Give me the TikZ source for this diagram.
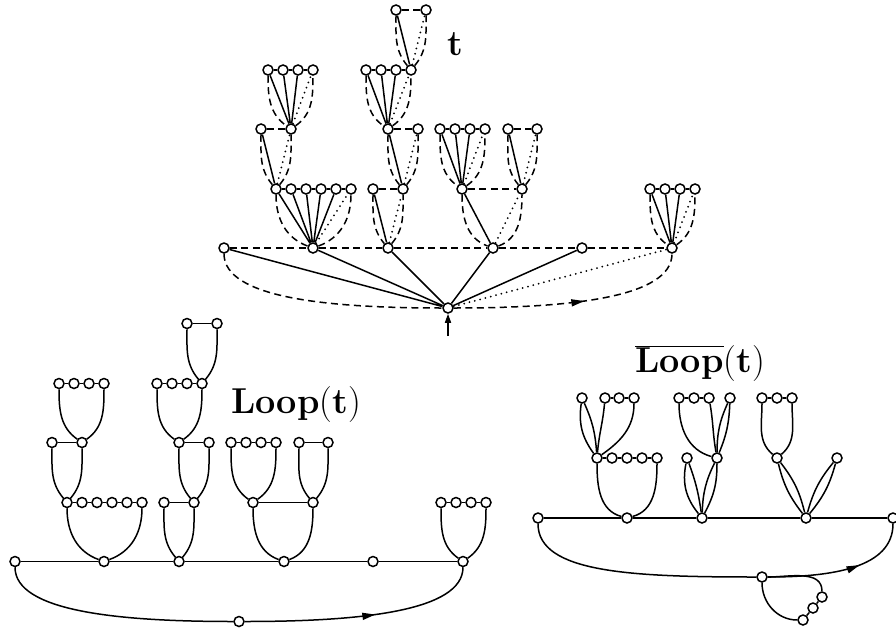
\RequirePackage{fix-cm}
\documentclass[tikz,border=0pt]{standalone}
\usetikzlibrary{arrows.meta,decorations.markings}
\pgfdeclarelayer{back}
\pgfsetlayers{back,main}
\tikzset{
 dot/.style={circle,draw,fill=white,inner sep=0pt,minimum size=10pt,line width=1.5pt},
 se/.style={line width=1.5pt},
 dt/.style={line width=2pt,dash pattern=on 0pt off 5.5pt,line cap=round},
 dsh/.style={line width=1.5pt,dash pattern=on 7pt off 4.5pt},
 arrowmark/.style={postaction={decorate},decoration={markings,mark=at position #1 with {\arrow{Triangle[length=13pt,width=7pt]}}}},
 lbl/.style={font=\fontsize{36}{43}\selectfont,inner sep=0pt},
}
\newcommand\treenodes{%
\node[dot] (r) at (448,308) {};
\node[dot] (a1) at (224,248) {};
\node[dot] (a2) at (313,248) {};
\node[dot] (a3) at (388,248) {};
\node[dot] (a4) at (493,248) {};
\node[dot] (a5) at (582,248) {};
\node[dot] (a6) at (672,248) {};
\node[dot] (b1) at (276,189) {};
\node[dot] (b2) at (291,189) {};
\node[dot] (b3) at (306,189) {};
\node[dot] (b4) at (321,189) {};
\node[dot] (b5) at (336,189) {};
\node[dot] (b6) at (351,189) {};
\node[dot] (c1) at (261,129) {};
\node[dot] (c2) at (291,129) {};
\node[dot] (d1) at (268,70) {};
\node[dot] (d2) at (283,70) {};
\node[dot] (d3) at (298,70) {};
\node[dot] (d4) at (313,70) {};
\node[dot] (e1) at (373,189) {};
\node[dot] (e2) at (403,189) {};
\node[dot] (f1) at (388,129) {};
\node[dot] (f2) at (418,129) {};
\node[dot] (g1) at (366,70) {};
\node[dot] (g2) at (381,70) {};
\node[dot] (g3) at (396,70) {};
\node[dot] (g4) at (411,70) {};
\node[dot] (h1) at (396,10) {};
\node[dot] (h2) at (426,10) {};
\node[dot] (i1) at (462,189) {};
\node[dot] (i2) at (522,189) {};
\node[dot] (j1) at (440,129) {};
\node[dot] (j2) at (455,129) {};
\node[dot] (j3) at (470,129) {};
\node[dot] (j4) at (485,129) {};
\node[dot] (k1) at (508,129) {};
\node[dot] (k2) at (537,129) {};
\node[dot] (l1) at (650,189) {};
\node[dot] (l2) at (665,189) {};
\node[dot] (l3) at (680,189) {};
\node[dot] (l4) at (695,189) {};
}
\newcommand\treechains[1]{%
\draw[#1] (a1)--(a2)--(a3)--(a4)--(a5)--(a6) (b1)--(b2)--(b3)--(b4)--(b5)--(b6)
 (c1)--(c2) (d1)--(d2)--(d3)--(d4) (e1)--(e2) (f1)--(f2) (g1)--(g2)--(g3)--(g4)
 (h1)--(h2) (i1)--(i2) (j1)--(j2)--(j3)--(j4) (k1)--(k2) (l1)--(l2)--(l3)--(l4);
}
\newcommand\famU[6]{\draw[#1] (#2) to[out=-90,in=#5] (#3) to[out=#6,in=-90] (#4);}
\newcommand\treeloops[1]{%
\draw[#1] (a1) .. controls +(0,50) and +(-120,0) .. (r);
\draw[#1,arrowmark=0.55] (r) .. controls +(120,0) and +(0,50) .. (a6);
\famU{#1}{b1}{a2}{b6}{160}{20}
\famU{#1}{e1}{a3}{e2}{130}{50}
\famU{#1}{i1}{a4}{i2}{160}{20}
\famU{#1}{l1}{a6}{l4}{145}{35}
\famU{#1}{c1}{b1}{c2}{130}{50}
\famU{#1}{d1}{c2}{d4}{145}{35}
\famU{#1}{f1}{e2}{f2}{130}{50}
\famU{#1}{g1}{f1}{g4}{145}{35}
\famU{#1}{h1}{g4}{h2}{130}{50}
\famU{#1}{j1}{i1}{j4}{145}{35}
\famU{#1}{k1}{i2}{k2}{130}{50}
}
\begin{document}
\begin{tikzpicture}[x=1pt,y=-1pt]
\useasboundingbox (0,0) rectangle (896,629);
% ---------- tree t ----------
\treenodes
\coordinate (rin) at (448,336);
\begin{pgfonlayer}{back}
\draw[se] (r)--(a1) (r)--(a2) (r)--(a3) (r)--(a4) (r)--(a5)
 (a2)--(b1) (a2)--(b2) (a2)--(b3) (a2)--(b4) (a2)--(b5) (a3)--(e1) (a4)--(i1)
 (a6)--(l1) (a6)--(l2) (a6)--(l3) (b1)--(c1) (c2)--(d1) (c2)--(d2) (c2)--(d3)
 (e2)--(f1) (f1)--(g1) (f1)--(g2) (f1)--(g3) (g4)--(h1) (i1)--(j1) (i1)--(j2)
 (i1)--(j3) (i2)--(k1);
\draw[dt] (r)--(a6) (a2)--(b6) (a3)--(e2) (a4)--(i2) (a6)--(l4) (b1)--(c2)
 (c2)--(d4) (e2)--(f2) (f1)--(g4) (g4)--(h2) (i1)--(j4) (i2)--(k2);
\treechains{dsh}
\treeloops{dsh}
\draw[se,-{Triangle[length=9pt,width=6pt]}] (rin) -- (r);
\end{pgfonlayer}
\node[lbl,anchor=base west] (tl) at (447,55) {\textbf{t}};
% ---------- Loop(t) ----------
\begin{scope}[shift={(-209,313.5)},name prefix=L-]
\treenodes
\end{scope}
\begin{scope}[name prefix=L-]
\begin{pgfonlayer}{back}
\treechains{se}
\treeloops{se}
\end{pgfonlayer}
\end{scope}
\node[lbl,anchor=base west] (ll) at (231,413) {\textbf{Loop}(\textbf{t})};
% ---------- Loop-bar(t) ----------
\node[dot] (L0) at (538,518) {};
\node[dot] (M1) at (627,518) {};
\node[dot] (M2) at (702,518) {};
\node[dot] (M3) at (806,518) {};
\node[dot] (R0) at (893,518) {};
\node[dot] (B) at (762,577) {};
\node[dot] (n1) at (822,597) {};
\node[dot] (n2) at (813,608) {};
\node[dot] (n3) at (803,620) {};
\node[dot] (P1) at (597,458) {};
\node[dot] (P2) at (612,458) {};
\node[dot] (P3) at (627,458) {};
\node[dot] (P4) at (642,458) {};
\node[dot] (P5) at (657,458) {};
\node[dot] (Q1) at (582,398) {};
\node[dot] (Q2) at (605,398) {};
\node[dot] (Q3) at (619,398) {};
\node[dot] (Q4) at (634,398) {};
\node[dot] (S1) at (687,458) {};
\node[dot] (S2) at (717,458) {};
\node[dot] (T1) at (679,398) {};
\node[dot] (T2) at (694,398) {};
\node[dot] (T3) at (709,398) {};
\node[dot] (T4) at (730,398) {};
\node[dot] (U1) at (777,458) {};
\node[dot] (U2) at (837,458) {};
\node[dot] (V1) at (762,398) {};
\node[dot] (V2) at (777,398) {};
\node[dot] (V3) at (792,398) {};
\begin{pgfonlayer}{back}
\draw[se] (L0)--(M1)--(M2)--(M3)--(R0);
\draw[se] (L0) .. controls +(0,55) and +(-130,0) .. (B);
\draw[se,arrowmark=0.62] (B) .. controls +(70,0) and +(0,50) .. (R0);
\draw[se] (B) to[out=0,in=90] (n1) -- (n2) -- (n3) to[out=180,in=-90] (B);
\draw[se] (P1)--(P2)--(P3)--(P4)--(P5) (Q2)--(Q3)--(Q4) (T1)--(T2)--(T3) (V1)--(V2)--(V3);
\famU{se}{P1}{M1}{P5}{165}{15}
\draw[se] (Q1) to[bend right=22] (P1) (Q1) to[bend left=10] (P1);
\draw[se] (Q2) to[out=-95,in=85] (P1) to[out=35,in=-90] (Q4);
\draw[se] (S1) to[bend right=25] (M2) (S1) to[bend left=6] (M2);
\draw[se] (S2) to[bend right=12] (M2) (S2) to[bend left=14] (M2);
\draw[se] (T1) to[out=-90,in=165] (S2) to[out=100,in=-80] (T3);
\draw[se] (T4) to[bend right=12] (S2) (T4) to[bend left=10] (S2);
\famU{se}{V1}{U1}{V3}{140}{40}
\draw[se] (U1) to[bend right=12] (M3) (U1) to[bend left=12] (M3);
\draw[se] (U2) to[bend right=12] (M3) (U2) to[bend left=12] (M3);
\end{pgfonlayer}
\node[lbl,anchor=base] (lb) at (700,372) {$\overline{\mbox{\textbf{Loop}}}$(\textbf{t})};
\end{tikzpicture}
\end{document}
